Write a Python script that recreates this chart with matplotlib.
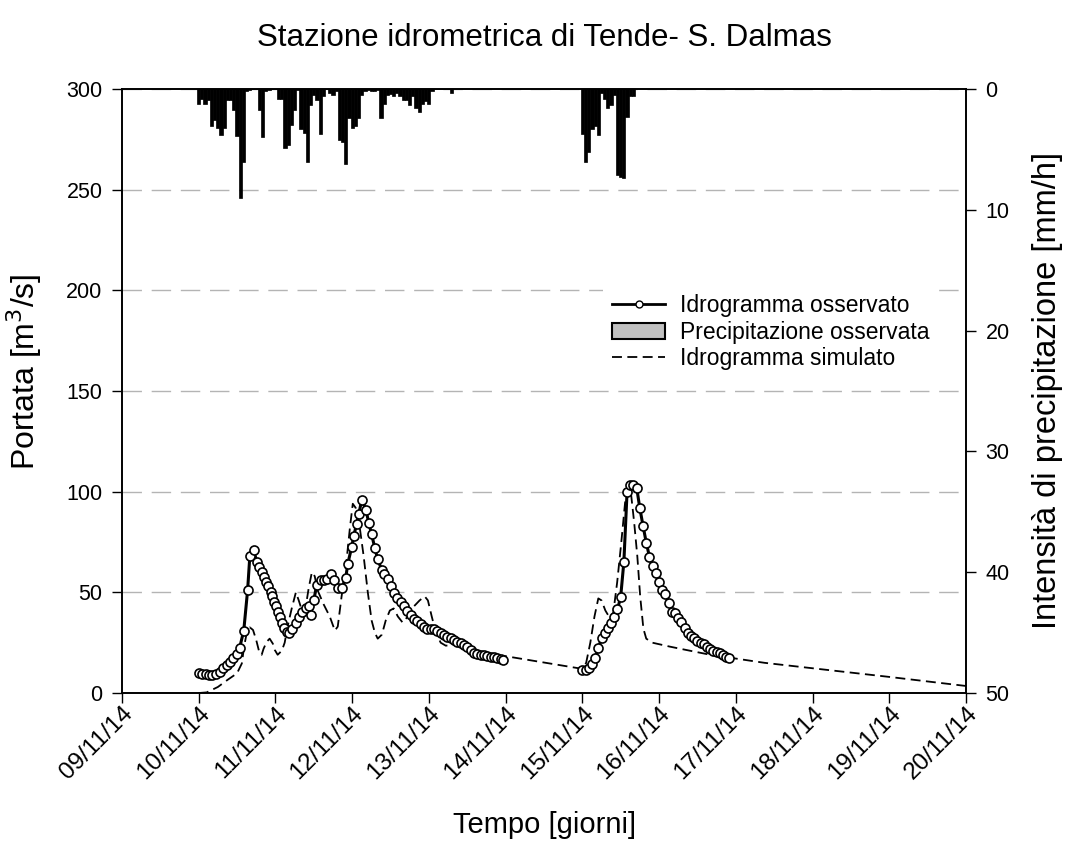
import matplotlib
matplotlib.use('Agg')
import matplotlib.pyplot as plt
from matplotlib.lines import Line2D
from matplotlib.patches import Patch

plt.rcParams['font.family'] = ['Liberation Sans', 'DejaVu Sans']

day_labels = ['09/11/14', '10/11/14', '11/11/14', '12/11/14', '13/11/14', '14/11/14',
              '15/11/14', '16/11/14', '17/11/14', '18/11/14', '19/11/14', '20/11/14']

# hours counted from 10/11/14 00:00
obs1_h = [0, 0.9, 2.2, 3.1, 4.1, 5.3, 6.6, 7.5, 8.8, 9.7,
          10.6, 11.9, 12.8, 14.1, 15.3, 16.0, 17.2, 18.2, 18.8, 19.7,
          20.3, 21.0, 21.6, 22.5, 22.8, 23.5, 24.1, 24.7, 25.3, 26.0,
          26.6, 27.5, 28.2, 29.1, 30.4, 31.3, 32.2, 33.5, 34.4, 35.0,
          36.0, 36.9, 38.2, 39.1, 40.1, 41.3, 42.2, 43.5, 44.7, 46.0,
          46.6, 47.9, 48.5, 49.4, 50.1, 51.0, 52.3, 53.2, 54.1, 55.1,
          56.0, 57.3, 57.9, 59.1, 60.1, 61.0, 62.0, 63.2, 64.1, 65.1,
          66.3, 67.3, 68.2, 69.5, 70.4, 71.3, 72.6, 73.5, 74.5, 75.7,
          76.7, 77.6, 78.9, 79.8, 80.7, 82.0, 82.9, 83.9, 85.1, 86.1,
          87.0, 88.2, 89.2, 90.1, 91.4, 92.3, 93.2, 94.5, 95.1]
obs1_q = [10, 9.5, 9.3, 9.1, 9, 9.2, 10.4, 12.4, 14, 15.5,
          17.4, 19.4, 22.4, 31, 51, 68, 71, 65, 62.7, 60,
          57.8, 55, 53, 50, 48, 45, 43, 40, 38, 35,
          32.3, 30.5, 29.7, 32, 35, 38, 40, 42, 43, 39,
          46, 53.6, 56, 56.3, 56.6, 59, 56, 52.3, 52, 57,
          64, 72.7, 78, 84, 89, 96, 91, 84.6, 78.8, 72,
          66.4, 61, 59, 56.5, 53.2, 49.8, 47.3, 45, 43, 40.7,
          38.7, 37, 35.8, 34.3, 33, 32, 32, 31.6, 31, 30,
          28.8, 28, 27.2, 26.3, 25.5, 24.7, 23.8, 22.7, 21.4, 20,
          19.4, 19, 18.9, 18.4, 18, 17.7, 17.2, 16.7, 16.4]

obs2_h = list(range(120, 167))
obs2_q = [11.4, 11.4, 12.3, 14.4, 17.2, 22.2, 27.2, 29.6, 32.1, 34.6,
          37.9, 41.5, 47.8, 65.2, 100, 103.3, 103.3, 102, 91.7, 83,
          74.7, 67.7, 63.1, 59.8, 55.3, 51.2, 49.2, 44.6, 40.4, 39.6,
          37.5, 35.4, 32.1, 29.6, 28.3, 27.2, 26, 25, 24.3, 23,
          21.7, 20.9, 20.5, 19.7, 18.9, 18, 17.2]

sim_h = [0, 2.5, 6, 9, 12, 13.5, 14.2, 14.9, 16, 17,
         18, 19, 19.7, 20.3, 21.3, 22.2, 23.2, 23.8, 24.7, 26,
         26.9, 27.8, 29.1, 30.4, 31.3, 32.5, 33.5, 34.4, 35.4, 36.3,
         37.2, 39.1, 41, 42.6, 43.5, 44.7, 46, 47.3, 48.2, 49.1,
         50.4, 51.6, 52.9, 54.1, 55.1, 56, 57.3, 58.5, 59.8, 61,
         62.3, 63.8, 65.4, 67.3, 69.1, 70.7, 71.7, 72.9, 74.2, 75.7,
         77.3, 79.2, 81, 82.9, 84.8, 86.7, 88.5, 90.4, 92.3, 94.2,
         96, 120, 121.2, 122.5, 123.8, 125, 126, 127.2, 128.7, 129.7,
         130.9, 132.2, 133.4, 134.3, 135.3, 136.2, 137.2, 138.1, 139.1, 140,
         141.9, 147.5, 153.7, 160, 166.8, 177, 192, 216, 240]
sim_q = [0, 0.3, 3, 6.5, 9.8, 14.7, 23, 28.8, 32.6, 31.3,
         26.3, 20, 19, 22, 25.5, 27, 24.5, 21.4, 19, 21,
         25, 33, 42, 50, 46, 40, 43, 52, 60, 58,
         51, 44, 38, 31, 33, 48, 62, 82, 94, 92,
         82, 68, 50, 36, 30, 27, 29, 36, 41, 42,
         38, 35, 38, 43, 46, 48, 46, 38, 30, 25,
         23.5, 24, 24, 23, 21.5, 20.3, 19.5, 19, 18.7, 18.5,
         18.3, 12, 15, 25, 38, 47, 46, 41, 37, 40,
         55, 75, 95, 102, 98, 85, 68, 48, 32, 27,
         25, 23, 21, 19, 17.4, 15, 12.3, 8, 3.5]

rain_h = list(range(0, 80)) + list(range(120, 137))
rain_mm = [1.2, 0.8, 1.2, 0.9, 3.1, 2.6, 3.2, 3.8, 3.2, 0.9,
           0.9, 1.7, 3.9, 9.0, 6.0, 0.2, 0.1, 0, 0, 1.7,
           4.0, 0.2, 0.1, 0, 0, 0.8, 0.8, 4.9, 4.6, 3.0,
           1.7, 0.1, 3.3, 3.6, 6.0, 1.3, 0.5, 0.9, 3.7, 0.6,
           0, 0.3, 0.5, 0.2, 4.2, 4.4, 6.2, 2.4, 3.2, 3.1,
           2.4, 0.5, 0.2, 0.1, 0.2, 0.2, 0.1, 2.4, 1.2, 0.5,
           0.4, 0.6, 0.3, 0.6, 0.9, 0.9, 1.3, 0.6, 1.6, 1.9,
           1.2, 1.0, 1.2, 0.2, 0, 0, 0, 0, 0, 0.3,
           3.7, 6.0, 5.2, 3.3, 3.1, 3.8, 0.3, 0.8, 1.6, 1.3,
           0.5, 7.1, 7.3, 7.4, 2.3, 0.6, 0.6]


def to_days(hours):
    # x axis in days from 09/11/14 00:00
    return [1 + h / 24 for h in hours]


fig = plt.figure(figsize=(10.67, 8.61), dpi=100)
ax = fig.add_axes([0.1143, 0.1951, 0.7910, 0.7015])
ax2 = ax.twinx()

ax.grid(axis='y', color='#b4b4b4', linestyle=(0, (14, 7)), lw=1.0)
ax.set_axisbelow(True)

ax.plot(to_days(sim_h), sim_q, color='black', lw=1.3, dashes=(5.5, 3), zorder=3)
for hh, qq in [(obs1_h, obs1_q), (obs2_h, obs2_q)]:
    ax.plot(to_days(hh), qq, color='black', lw=2.2, marker='o', markersize=6.5,
            markerfacecolor='white', markeredgecolor='black', markeredgewidth=1.2, zorder=4)

ax2.bar(to_days(rain_h), rain_mm, width=1 / 24, color='black', edgecolor='black', lw=0.5)

ax.set_xlim(0, 11)
ax.set_ylim(0, 300)
ax2.set_ylim(50, 0)
ax.set_xticks(range(12))
ax.set_xticklabels(day_labels, rotation=45, ha='right', rotation_mode='anchor')
ax.set_yticks(range(0, 301, 50))
ax2.set_yticks(range(0, 51, 10))

for a in (ax, ax2):
    a.tick_params(direction='out', length=7, width=1, labelsize=15.5, pad=7)
    for s in a.spines.values():
        s.set_linewidth(1.2)
ax.tick_params(axis='x', labelsize=17.5, pad=0)

fig.text(0.51, 0.956, 'Stazione idrometrica di Tende- S. Dalmas', ha='center', va='center', fontsize=22.5)
fig.text(0.51, 0.042, 'Tempo [giorni]', ha='center', va='center', fontsize=21)
fig.text(0.023, 0.568, 'Portata [m$^3$/s]', ha='center', va='center', rotation=90, fontsize=23)
fig.text(0.982, 0.547, 'Intensità di precipitazione [mm/h]', ha='center', va='center',
         rotation=90, fontsize=23.5)

handles = [
    Line2D([], [], color='black', lw=2, marker='o', markersize=5, markerfacecolor='white',
           markeredgecolor='black'),
    Patch(facecolor='#c0c0c0', edgecolor='black', lw=1.5),
    Line2D([], [], color='black', lw=1.3, dashes=(5.5, 3)),
]
labels = ['Idrogramma osservato', 'Precipitazione osservata', 'Idrogramma simulato']
leg = ax2.legend(handles, labels, loc='upper left', bbox_to_anchor=(0.57, 0.675),
                 borderaxespad=0, borderpad=0.4, fontsize=16.5, frameon=True,
                 fancybox=False, edgecolor='none', facecolor='white', framealpha=1,
                 handlelength=2.3, handletextpad=0.65, labelspacing=0.15)

fig.savefig('out.png', dpi=100)
